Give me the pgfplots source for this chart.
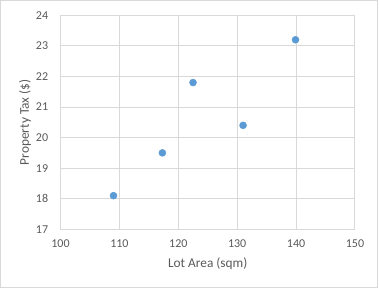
\documentclass[border=0pt]{standalone}
\usepackage{pgfplots}
\pgfplotsset{compat=1.18}
\usepackage{fontspec}
\setmainfont{Carlito}
\definecolor{ptblue}{HTML}{5B9BD5}
\definecolor{gridgray}{HTML}{D9D9D9}
\definecolor{txtgray}{HTML}{595959}
\begin{document}
\begin{tikzpicture}
\path[use as bounding box] (0,0) rectangle (284.25pt,218.25pt);
\draw[gridgray, line width=0.75pt] (0.375pt,2.775pt) rectangle (283.275pt,217.725pt);
\begin{axis}[
  at={(45.375pt,46.275pt)}, anchor=south west,
  scale only axis, width=220.875pt, height=160.5pt,
  xmin=100, xmax=150, ymin=17, ymax=24,
  xtick={100,110,...,150}, ytick={17,18,...,24},
  grid=major, major grid style={gridgray, line width=0.75pt},
  axis line style={gridgray, line width=0.75pt},
  major tick length=0pt,
  tick label style={font=\fontsize{9}{10}\selectfont, text=txtgray},
  /pgf/number format/assume math mode=true,
  xticklabel style={anchor=north, inner sep=0pt, yshift=-7.5pt},
  yticklabel style={anchor=east, inner sep=0pt, xshift=-9.1pt},
  xlabel={Lot Area (sqm)},
  ylabel={Property Tax (\$)},
  every axis x label/.style={at={([yshift=-26pt]axis description cs:0.5,0)}, anchor=center, font=\fontsize{10}{12}\selectfont, text=txtgray},
  every axis y label/.style={at={([xshift=-26.6pt]axis description cs:0,0.5)}, anchor=center, rotate=90, font=\fontsize{10}{12}\selectfont, text=txtgray},
]
\addplot[only marks, mark=*, mark size=2.6pt, mark options={fill=ptblue, draw=ptblue}] coordinates {
  (109,18.1) (117.3,19.5) (122.5,21.8) (131,20.4) (139.9,23.2)
};
\end{axis}
\end{tikzpicture}
\end{document}
